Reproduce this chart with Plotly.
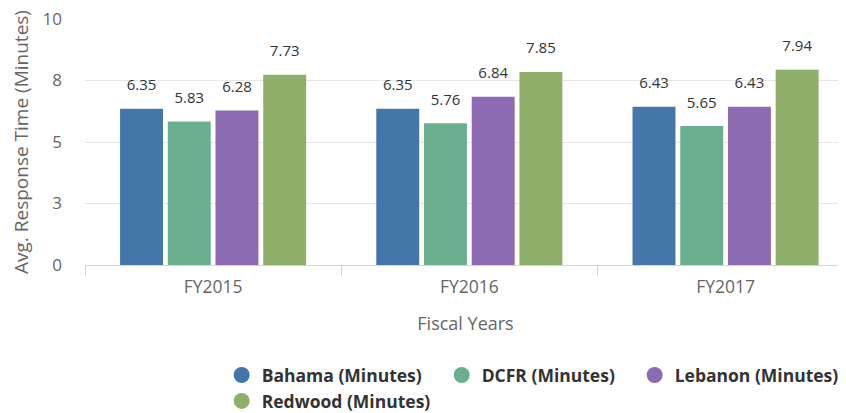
import plotly.graph_objects as go

categories = ["FY2015", "FY2016", "FY2017"]
bahama = [6.35, 6.35, 6.43]
dcfr = [5.83, 5.76, 5.65]
lebanon = [6.28, 6.84, 6.43]
redwood = [7.73, 7.85, 7.94]
series_names = ["Bahama (Minutes)", "DCFR (Minutes)", "Lebanon (Minutes)", "Redwood (Minutes)"]
series_values = [bahama, dcfr, lebanon, redwood]
colors = ["#4576a9", "#6bb08e", "#8c6bb3", "#8fae6a"]
legend_ids = ["legend", "legend2", "legend3", "legend4"]
ytick_vals = [0, 2.5, 5, 7.5, 10]
ytick_text = ["0", "3", "5", "8", "10"]

FONT = "Open Sans, Arial, sans-serif"

fig = go.Figure()
# bars
for name, vals, col in zip(series_names, series_values, colors):
    fig.add_trace(go.Bar(
        x=categories, y=vals, name=name, legendgroup=name, showlegend=False,
        marker=dict(color=col, line=dict(width=0)),
        offsetgroup=name, alignmentgroup="main",
    ))
# value labels (grouped like the bars)
for name, vals in zip(series_names, series_values):
    fig.add_trace(go.Scatter(
        x=categories, y=vals, mode="markers+text", legendgroup=name, showlegend=False,
        text=[f"{v:.2f}" for v in vals], textposition="top center",
        marker=dict(size=22, opacity=0), cliponaxis=False, hoverinfo="skip",
        textfont=dict(family=FONT, size=15, color="#333333"),
        offsetgroup=name, alignmentgroup="main",
    ))
# legend entries (round symbols), on a hidden overlay axis
for name, col, lg in zip(series_names, colors, legend_ids):
    fig.add_trace(go.Scatter(
        x=[None], y=[None], mode="markers", name=name, legendgroup=name,
        marker=dict(symbol="circle", size=16, color=col), legend=lg,
        xaxis="x2", yaxis="y2",
    ))

legend_common = dict(
    orientation="h", xanchor="left", yanchor="top",
    xref="container", yref="container",
    font=dict(family=FONT, size=17.5, color="#333333", weight="bold"),
    bgcolor="rgba(0,0,0,0)", itemwidth=30, tracegroupgap=0,
)

fig.update_layout(
    width=838, height=405,
    margin=dict(l=77, r=0, t=11, b=148),
    plot_bgcolor="white", paper_bgcolor="white",
    font=dict(family=FONT, color="#666666"),
    barmode="group", bargap=0.255, bargroupgap=0.1,
    scattermode="group", scattergap=0.255,
    legend=dict(x=0.2550, y=0.138, **legend_common),
    legend2=dict(x=0.5175, y=0.138, **legend_common),
    legend3=dict(x=0.7478, y=0.138, **legend_common),
    legend4=dict(x=0.2550, y=0.074, **legend_common),
    xaxis=dict(
        type="category", range=[-0.5, 2.47], tickson="boundaries",
        ticks="outside", ticklen=10, tickcolor="#ccd6eb", tickwidth=1,
        showline=True, linecolor="#ccd6eb", linewidth=1, showgrid=False,
        ticklabelstandoff=6,
        tickfont=dict(family=FONT, size=17.5, color="#666666"),
        title=dict(text="Fiscal Years", font=dict(family=FONT, size=18, color="#666666"), standoff=20),
        automargin=False,
    ),
    yaxis=dict(
        range=[0, 10], tickvals=ytick_vals, ticktext=ytick_text,
        showgrid=True, gridcolor="#e6e6e6", gridwidth=1,
        zeroline=False, showline=False, ticks="",
        ticklabelstandoff=22, ticklabeloverflow="allow",
        tickfont=dict(family=FONT, size=17, color="#666666"),
        title=dict(text="Avg. Response Time (Minutes)", font=dict(family=FONT, size=19, color="#666666"), standoff=27),
        automargin=False,
    ),
    xaxis2=dict(overlaying="x", visible=False, range=[0, 1]),
    yaxis2=dict(overlaying="y", visible=False, range=[0, 1]),
)

fig.write_html("out.html")
